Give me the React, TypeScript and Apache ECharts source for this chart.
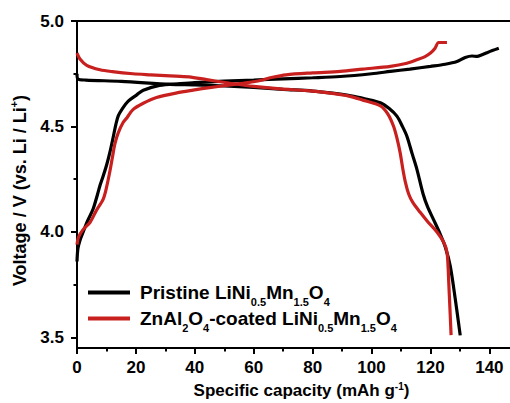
import React, { useEffect, useRef } from 'react';
import * as echarts from 'echarts';

const xMajorTicks = [0, 20, 40, 60, 80, 100, 120, 140];
const xMinorTicks = [10, 30, 50, 70, 90, 110, 130];
const yMajorTicks = [3.5, 4.0, 4.5, 5.0];
const yMinorTicks = [3.75, 4.25, 4.75];

// [capacity mAh/g, voltage V]
const pristineCharge = [
  [0, 3.86], [0.3, 3.92], [1, 3.96], [2.1, 4.0], [3.5, 4.05], [5.5, 4.11], [7, 4.18],
  [7.8, 4.22], [9, 4.27], [10.1, 4.32], [11.2, 4.38], [12.3, 4.45], [13.2, 4.51], [14, 4.55],
  [15.2, 4.58], [17.4, 4.62], [20.3, 4.65], [22.5, 4.672], [28, 4.695], [35, 4.703],
  [40, 4.708], [50, 4.715], [60, 4.72], [70, 4.726], [80, 4.731], [89.4, 4.737], [100, 4.75],
  [106.4, 4.761], [113, 4.772], [120, 4.785], [125, 4.795], [129, 4.808], [131.8, 4.827],
  [134.1, 4.834], [135.8, 4.832], [137.5, 4.84], [139.2, 4.85], [141, 4.86], [143.2, 4.871]
];

const pristineDischarge = [
  [0, 4.75], [0.3, 4.725], [3, 4.72], [15, 4.714], [31.6, 4.70], [40, 4.697], [50, 4.692],
  [60, 4.685], [70, 4.676], [80, 4.668], [86, 4.659], [93, 4.645], [98, 4.63], [103, 4.612],
  [106, 4.585], [108.6, 4.549], [110.5, 4.5], [112, 4.454], [113.8, 4.37], [115.4, 4.297],
  [117.5, 4.18], [119, 4.12], [121, 4.06], [123.3, 3.99], [125, 3.93], [126.7, 3.84],
  [128.4, 3.684], [130.1, 3.51]
];

const coatedCharge = [
  [0, 3.94], [0.5, 3.975], [2, 4.01], [4.4, 4.045], [6.5, 4.10], [8.9, 4.156], [10, 4.21],
  [11.2, 4.29], [12.1, 4.36], [12.9, 4.42], [14, 4.47], [15.7, 4.52], [16.9, 4.54],
  [19, 4.58], [22.5, 4.61], [27, 4.637], [33.9, 4.659], [39.4, 4.672], [45, 4.684],
  [52, 4.697], [58, 4.708], [62.2, 4.718], [66, 4.732], [71, 4.745], [80, 4.754],
  [89.4, 4.761], [97, 4.772], [106.4, 4.785], [112, 4.80], [115.4, 4.816], [118, 4.83],
  [120, 4.848], [121.5, 4.87], [122.8, 4.898], [125.6, 4.898]
];

const coatedDischarge = [
  [0, 4.848], [1, 4.82], [3.3, 4.79], [7.8, 4.769], [12, 4.76], [19, 4.75], [25, 4.745],
  [31.6, 4.74], [38, 4.735], [44, 4.722], [52, 4.705], [60, 4.69], [69, 4.678], [78, 4.67],
  [86, 4.658], [92, 4.645], [97, 4.625], [103, 4.598], [105.5, 4.56], [107.5, 4.50],
  [108.7, 4.44], [109.7, 4.376], [110.6, 4.30], [111.5, 4.235], [112.6, 4.18], [114, 4.14],
  [116.5, 4.093], [119, 4.05], [122.2, 4.0], [124.5, 3.951], [125.6, 3.904], [126, 3.83],
  [126.2, 3.763], [126.6, 3.64], [127, 3.511]
];

const FONT = "'Liberation Sans', Arial, Helvetica, sans-serif";
const BLACK = '#000000';
const RED = '#c8201f';

export default function App() {
  const ref = useRef<HTMLDivElement>(null);

  useEffect(() => {
    if (!ref.current) return;
    const chart = echarts.init(ref.current, undefined, { renderer: 'svg' });

    const axisLineStyle = { color: BLACK, width: 2 };
    const legendRich = {
      m: { fontFamily: FONT, fontWeight: 'bold', fontSize: 19, color: BLACK, lineHeight: 29 },
      s: { fontFamily: FONT, fontWeight: 'bold', fontSize: 11, color: BLACK, lineHeight: 11, verticalAlign: 'bottom' }
    };
    const nameRich = {
      m: { fontFamily: FONT, fontWeight: 'bold', fontSize: 17, color: BLACK, lineHeight: 19 },
      p: { fontFamily: FONT, fontWeight: 'bold', fontSize: 10, color: BLACK, lineHeight: 10, verticalAlign: 'top' }
    };
    const yNameRich = {
      m: { fontFamily: FONT, fontWeight: 'bold', fontSize: 18, color: BLACK, lineHeight: 23 },
      p: { fontFamily: FONT, fontWeight: 'bold', fontSize: 11, color: BLACK, lineHeight: 11, verticalAlign: 'top' }
    };

    const lineSeries = (name: string, data: number[][], color: string) => ({
      name,
      type: 'line',
      xAxisIndex: 0,
      yAxisIndex: 0,
      data,
      showSymbol: false,
      symbol: 'none',
      smooth: 0.3,
      lineStyle: { color, width: 3.2 },
      itemStyle: { color },
      z: color === RED ? 3 : 2
    });

    chart.setOption({
      animation: false,
      backgroundColor: '#ffffff',
      grid: { left: 77, top: 21, right: 0, bottom: 55, containLabel: false, outerBoundsMode: 'none' },
      legend: {
        orient: 'vertical',
        left: 88,
        top: 283,
        padding: 0,
        itemGap: 2,
        itemWidth: 42,
        itemHeight: 4,
        icon: 'rect',
        data: ['Pristine', 'Coated'],
        textStyle: { padding: [0, 0, 0, 5], rich: legendRich },
        formatter: (name: string) =>
          name === 'Pristine'
            ? '{m|Pristine LiNi}{s|0.5}{m|Mn}{s|1.5}{m|O}{s|4}'
            : '{m|ZnAl}{s|2}{m|O}{s|4}{m|-coated LiNi}{s|0.5}{m|Mn}{s|1.5}{m|O}{s|4}'
      },
      xAxis: [
        {
          type: 'value',
          position: 'bottom',
          min: 0,
          max: 147,
          name: '{m|Specific capacity (mAh g}{p|-1}{m|)}',
          nameLocation: 'middle',
          nameGap: 33,
          nameTextStyle: { rich: nameRich, padding: [0, 0, 0, 16] },
          axisLine: { show: true, lineStyle: axisLineStyle },
          axisTick: { show: true, customValues: xMajorTicks, length: 6, lineStyle: axisLineStyle },
          axisLabel: {
            customValues: xMajorTicks,
            margin: 11,
            fontFamily: FONT,
            fontWeight: 'bold',
            fontSize: 17,
            color: BLACK
          },
          splitLine: { show: false }
        },
        {
          type: 'value',
          position: 'bottom',
          min: 0,
          max: 147,
          axisLine: { show: false },
          axisTick: { show: true, customValues: xMinorTicks, length: 3.5, lineStyle: axisLineStyle },
          axisLabel: { show: false, customValues: xMinorTicks },
          splitLine: { show: false }
        },
        {
          type: 'value',
          position: 'top',
          min: 0,
          max: 147,
          axisLine: { show: true, lineStyle: axisLineStyle },
          axisTick: { show: false },
          axisLabel: { show: false },
          splitLine: { show: false }
        }
      ],
      yAxis: [
        {
          type: 'value',
          position: 'left',
          min: 3.45,
          max: 5.0,
          name: '{m|Voltage / V (vs. Li / Li}{p|+}{m|)}',
          nameLocation: 'middle',
          nameGap: 46,
          nameTextStyle: { rich: yNameRich, padding: [0, 12, 0, 0] },
          axisLine: { show: true, lineStyle: axisLineStyle },
          axisTick: { show: true, customValues: yMajorTicks, length: 6, lineStyle: axisLineStyle },
          axisLabel: {
            customValues: yMajorTicks,
            margin: 13,
            fontFamily: FONT,
            fontWeight: 'bold',
            fontSize: 17,
            color: BLACK,
            formatter: (v: number) => v.toFixed(1)
          },
          splitLine: { show: false }
        },
        {
          type: 'value',
          position: 'left',
          min: 3.45,
          max: 5.0,
          axisLine: { show: false },
          axisTick: { show: true, customValues: yMinorTicks, length: 3.5, lineStyle: axisLineStyle },
          axisLabel: { show: false, customValues: yMinorTicks },
          splitLine: { show: false }
        }
      ],
      series: [
        lineSeries('Pristine', pristineCharge, BLACK),
        lineSeries('Pristine', pristineDischarge, BLACK),
        lineSeries('Coated', coatedCharge, RED),
        lineSeries('Coated', coatedDischarge, RED)
      ]
    });

    return () => chart.dispose();
  }, []);

  return (
    <div
      ref={ref}
      style={{ position: 'fixed', left: 0, top: 0, width: 510, height: 403, background: '#fff' }}
    />
  );
}
